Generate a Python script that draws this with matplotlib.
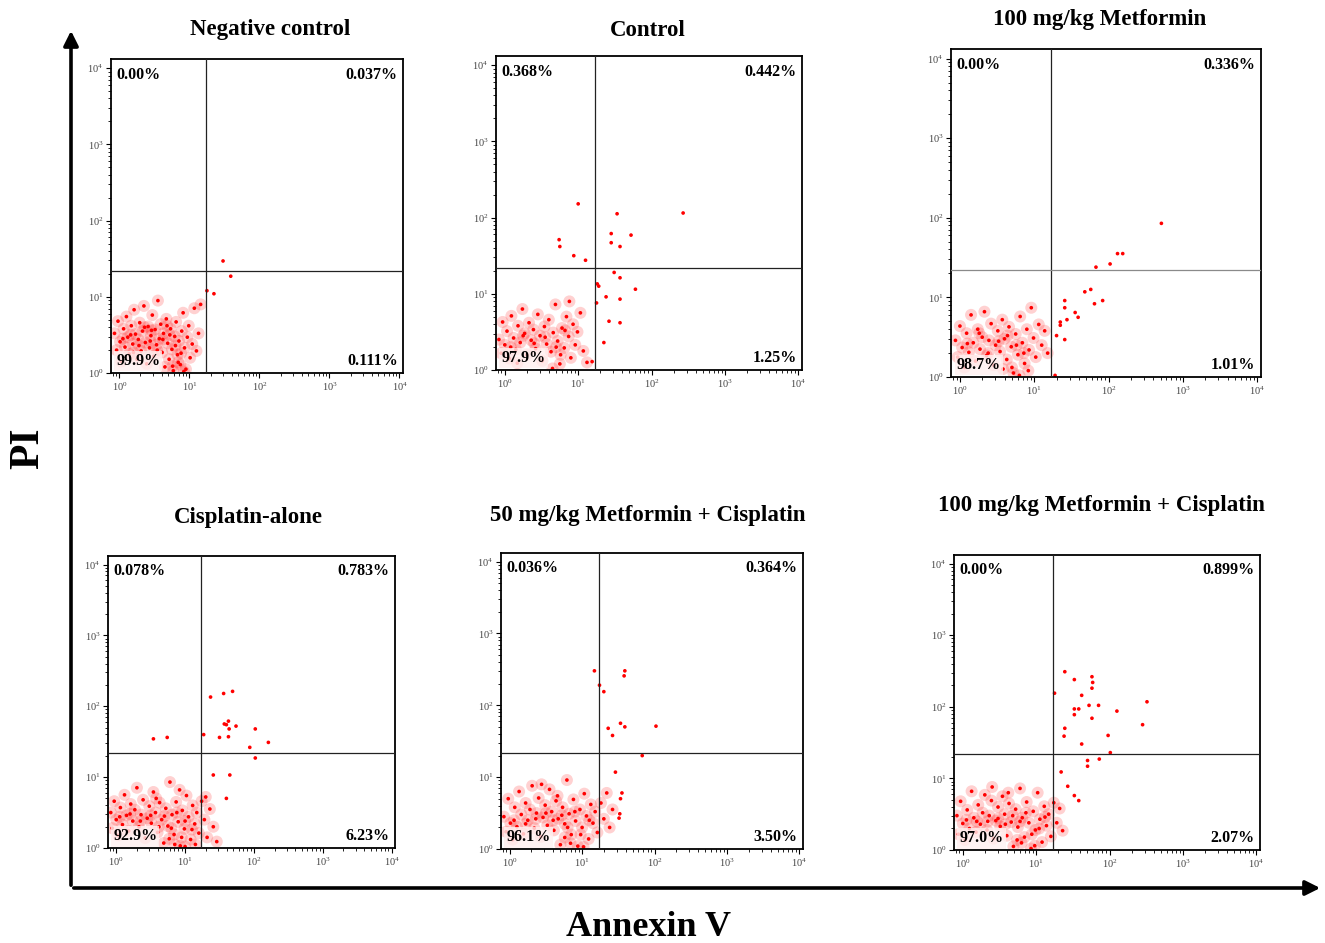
import numpy as np
import matplotlib.pyplot as plt
from matplotlib.patches import FancyArrowPatch
from matplotlib.ticker import LogLocator, NullFormatter

plt.rcParams['font.family'] = ['Liberation Serif', 'DejaVu Serif']
plt.rcParams['mathtext.fontset'] = 'custom'
plt.rcParams['mathtext.rm'] = 'Liberation Serif'

W, H = 1325, 943

titles = ["Negative control", "Control", "100 mg/kg Metformin",
          "Cisplatin-alone", "50 mg/kg Metformin + Cisplatin",
          "100 mg/kg Metformin + Cisplatin"]

# quadrant percentages: upper-left, upper-right, lower-left, lower-right
quad_labels = [
    ["0.00%", "0.037%", "99.9%", "0.111%"],
    ["0.368%", "0.442%", "97.9%", "1.25%"],
    ["0.00%", "0.336%", "98.7%", "1.01%"],
    ["0.078%", "0.783%", "92.9%", "6.23%"],
    ["0.036%", "0.364%", "96.1%", "3.50%"],
    ["0.00%", "0.899%", "97.0%", "2.07%"],
]

gate_x = 17.0   # Annexin V gate
gate_y = 22.0   # PI gate

# events, as (log10 Annexin V, log10 PI)
p1_cloud = [
    (-0.07, 0.52), (-0.04, 0.30), (-0.02, 0.68), (0.01, 0.41), (0.03, 0.15), (0.06, 0.58), (0.08, 0.34),
    (0.10, 0.74), (0.12, 0.47), (0.14, 0.25), (0.17, 0.62), (0.19, 0.38), (0.21, 0.83), (0.23, 0.51),
    (0.25, 0.18), (0.27, 0.44), (0.29, 0.66), (0.31, 0.29), (0.33, 0.55), (0.35, 0.88), (0.37, 0.40),
    (0.39, 0.12), (0.41, 0.61), (0.43, 0.33), (0.45, 0.49), (0.47, 0.76), (0.49, 0.22), (0.51, 0.57),
    (0.53, 0.37), (0.55, 0.95), (0.57, 0.45), (0.59, 0.64), (0.61, 0.27), (0.63, 0.52), (0.65, 0.08),
    (0.67, 0.71), (0.69, 0.39), (0.71, 0.18), (0.73, 0.58), (0.75, 0.31), (0.77, 0.03), (0.79, 0.48),
    (0.81, 0.67), (0.83, 0.24), (0.85, 0.42), (0.87, 0.11), (0.89, 0.55), (0.91, 0.79), (0.93, 0.33),
    (0.95, 0.05), (0.97, 0.47), (0.99, 0.62), (1.01, 0.20), (1.04, 0.38), (1.07, 0.85), (1.10, 0.29),
    (1.13, 0.52), (1.16, 0.90), (0.05, 0.45), (0.16, 0.50), (0.28, 0.36), (0.36, 0.60), (0.44, 0.42),
    (0.54, 0.30), (0.62, 0.44), (0.72, 0.50), (0.80, 0.36), (0.88, 0.26), (0.20, 0.27), (0.46, 0.56),
    (0.68, 0.62), (0.84, 0.14), (0.76, 0.09), (0.92, 0.02),
]
p1_out = [(1.25, 1.08), (1.35, 1.04), (1.48, 1.47), (1.59, 1.27)]

p2_cloud = [
    (-0.08, 0.40), (-0.05, 0.22), (-0.03, 0.63), (0.00, 0.33), (0.03, 0.51), (0.06, 0.15), (0.09, 0.71),
    (0.12, 0.42), (0.15, 0.27), (0.18, 0.58), (0.21, 0.36), (0.24, 0.80), (0.27, 0.48), (0.30, 0.20),
    (0.33, 0.62), (0.36, 0.39), (0.39, 0.53), (0.42, 0.28), (0.45, 0.73), (0.48, 0.45), (0.51, 0.12),
    (0.54, 0.57), (0.57, 0.34), (0.60, 0.66), (0.63, 0.24), (0.66, 0.49), (0.69, 0.86), (0.72, 0.38),
    (0.75, 0.08), (0.78, 0.55), (0.81, 0.29), (0.84, 0.70), (0.87, 0.44), (0.90, 0.16), (0.93, 0.60),
    (0.96, 0.33), (0.99, 0.50), (1.03, 0.75), (1.07, 0.25), (1.12, 0.10), (0.08, 0.30), (0.25, 0.45),
    (0.40, 0.35), (0.55, 0.43), (0.70, 0.30), (0.82, 0.52), (0.65, 0.02), (0.76, 0.20), (0.17, 0.09),
    (0.88, 0.90),
]
p2_out = [
    (1.00, 2.18), (1.53, 2.05), (2.43, 2.06), (1.45, 1.79), (1.45, 1.67), (1.72, 1.77), (1.57, 1.62),
    (0.74, 1.71), (0.75, 1.62), (0.94, 1.50), (1.10, 1.44), (1.49, 1.28), (1.57, 1.21), (1.28, 1.10),
    (1.26, 1.13), (1.78, 1.06), (1.38, 0.96), (1.57, 0.93), (1.25, 0.88), (1.42, 0.64), (1.57, 0.62),
    (1.35, 0.36), (1.19, 0.11),
]

p3_cloud = [
    (-0.06, 0.46), (-0.03, 0.25), (0.00, 0.64), (0.03, 0.37), (0.06, 0.12), (0.09, 0.55), (0.12, 0.31),
    (0.15, 0.78), (0.18, 0.43), (0.21, 0.20), (0.24, 0.60), (0.27, 0.35), (0.30, 0.50), (0.33, 0.82),
    (0.36, 0.27), (0.39, 0.46), (0.42, 0.67), (0.45, 0.15), (0.48, 0.40), (0.51, 0.58), (0.54, 0.32),
    (0.57, 0.72), (0.60, 0.48), (0.63, 0.22), (0.66, 0.63), (0.69, 0.38), (0.72, 0.05), (0.75, 0.54),
    (0.78, 0.28), (0.81, 0.76), (0.84, 0.43), (0.87, 0.17), (0.90, 0.60), (0.93, 0.34), (0.96, 0.87),
    (0.99, 0.49), (1.02, 0.25), (1.06, 0.66), (1.10, 0.40), (1.14, 0.58), (1.18, 0.30), (0.10, 0.42),
    (0.26, 0.55), (0.38, 0.30), (0.52, 0.45), (0.64, 0.52), (0.76, 0.40), (0.86, 0.30), (0.70, 0.12),
    (0.80, 0.02), (0.58, 0.10), (0.92, 0.08),
]
p3_out = [
    (2.71, 1.93), (2.12, 1.55), (2.19, 1.55), (2.02, 1.42), (1.83, 1.38), (1.68, 1.07), (1.76, 1.10),
    (1.92, 0.96), (1.81, 0.92), (1.41, 0.96), (1.41, 0.87), (1.55, 0.81), (1.59, 0.75), (1.44, 0.72),
    (1.35, 0.69), (1.35, 0.65), (1.30, 0.52), (1.41, 0.47), (1.28, 0.02),
]

p4_cloud = [
    (-0.08, 0.50), (-0.06, 0.28), (-0.03, 0.66), (0.00, 0.40), (0.03, 0.18), (0.06, 0.57), (0.09, 0.33),
    (0.12, 0.75), (0.15, 0.46), (0.18, 0.24), (0.21, 0.62), (0.24, 0.38), (0.27, 0.54), (0.30, 0.85),
    (0.33, 0.30), (0.36, 0.47), (0.39, 0.68), (0.42, 0.14), (0.45, 0.42), (0.48, 0.59), (0.51, 0.35),
    (0.54, 0.79), (0.57, 0.50), (0.60, 0.22), (0.63, 0.64), (0.66, 0.40), (0.69, 0.07), (0.72, 0.56),
    (0.75, 0.31), (0.78, 0.93), (0.81, 0.47), (0.84, 0.19), (0.87, 0.65), (0.90, 0.37), (0.93, 0.03),
    (0.96, 0.53), (0.99, 0.27), (1.02, 0.74), (1.05, 0.44), (1.08, 0.12), (1.11, 0.60), (1.14, 0.34),
    (1.17, 0.50), (1.20, 0.21), (1.24, 0.66), (1.28, 0.40), (1.32, 0.15), (1.36, 0.55), (1.41, 0.30),
    (1.46, 0.09), (0.05, 0.44), (0.20, 0.48), (0.35, 0.38), (0.50, 0.46), (0.62, 0.30), (0.70, 0.45),
    (0.80, 0.28), (0.88, 0.50), (0.95, 0.15), (1.00, 0.38), (1.10, 0.26), (0.85, 0.05), (1.00, 0.02),
    (0.77, 0.13), (1.15, 0.05), (1.30, 0.72), (0.58, 0.70), (0.92, 0.82),
]
p4_out = [
    (1.37, 2.13), (1.56, 2.18), (1.69, 2.21), (1.57, 1.75), (1.63, 1.79), (1.60, 1.74), (1.64, 1.68),
    (1.74, 1.72), (2.02, 1.68), (2.21, 1.49), (1.94, 1.42), (2.02, 1.27), (1.27, 1.60), (1.50, 1.56),
    (1.63, 1.57), (0.54, 1.54), (0.74, 1.56), (1.41, 1.03), (1.65, 1.03), (1.60, 0.70),
]

p5_cloud = [
    (-0.08, 0.45), (-0.05, 0.24), (-0.02, 0.70), (0.01, 0.36), (0.04, 0.13), (0.07, 0.58), (0.10, 0.31),
    (0.13, 0.80), (0.16, 0.48), (0.19, 0.21), (0.22, 0.64), (0.25, 0.40), (0.28, 0.55), (0.31, 0.88),
    (0.34, 0.29), (0.37, 0.50), (0.40, 0.71), (0.43, 0.17), (0.46, 0.44), (0.49, 0.61), (0.52, 0.33),
    (0.55, 0.83), (0.58, 0.52), (0.61, 0.26), (0.64, 0.67), (0.67, 0.42), (0.70, 0.06), (0.73, 0.58),
    (0.76, 0.35), (0.79, 0.96), (0.82, 0.49), (0.85, 0.20), (0.88, 0.69), (0.91, 0.39), (0.94, 0.04),
    (0.97, 0.55), (1.00, 0.30), (1.03, 0.77), (1.06, 0.46), (1.09, 0.14), (1.12, 0.62), (1.15, 0.36),
    (1.18, 0.52), (1.21, 0.23), (1.26, 0.64), (1.30, 0.42), (1.34, 0.78), (1.38, 0.30), (1.42, 0.55),
    (0.06, 0.40), (0.22, 0.35), (0.36, 0.42), (0.50, 0.50), (0.60, 0.40), (0.72, 0.47), (0.80, 0.30),
    (0.90, 0.52), (0.98, 0.20), (1.10, 0.40), (0.84, 0.08), (0.76, 0.16), (1.02, 0.03), (0.66, 0.74),
    (0.44, 0.90),
]
p5_out = [
    (1.17, 2.48), (1.59, 2.48), (1.58, 2.41), (1.24, 2.28), (1.30, 2.19), (1.53, 1.75), (1.59, 1.70),
    (1.36, 1.68), (1.42, 1.58), (2.02, 1.71), (1.83, 1.30), (1.46, 1.07), (1.55, 0.78), (1.53, 0.70),
    (1.52, 0.49), (1.51, 0.43),
]

p6_cloud = [
    (-0.08, 0.48), (-0.06, 0.22), (-0.03, 0.68), (0.00, 0.37), (0.03, 0.14), (0.06, 0.56), (0.09, 0.30),
    (0.12, 0.82), (0.15, 0.45), (0.18, 0.25), (0.21, 0.63), (0.24, 0.36), (0.27, 0.52), (0.30, 0.77),
    (0.33, 0.28), (0.36, 0.48), (0.39, 0.69), (0.42, 0.16), (0.45, 0.41), (0.48, 0.60), (0.51, 0.33),
    (0.54, 0.75), (0.57, 0.50), (0.60, 0.20), (0.63, 0.65), (0.66, 0.39), (0.69, 0.05), (0.72, 0.57),
    (0.75, 0.32), (0.78, 0.86), (0.81, 0.45), (0.84, 0.18), (0.87, 0.67), (0.90, 0.38), (0.93, 0.02),
    (0.96, 0.54), (0.99, 0.28), (1.02, 0.80), (1.05, 0.43), (1.08, 0.11), (1.11, 0.61), (1.14, 0.34),
    (1.17, 0.50), (1.20, 0.19), (1.24, 0.66), (1.28, 0.38), (1.32, 0.58), (1.36, 0.27), (0.05, 0.42),
    (0.19, 0.40), (0.34, 0.40), (0.48, 0.44), (0.58, 0.36), (0.68, 0.48), (0.78, 0.40), (0.86, 0.52),
    (0.94, 0.22), (1.04, 0.30), (1.12, 0.46), (0.80, 0.10), (0.98, 0.06), (0.74, 0.14), (0.62, 0.80),
    (0.40, 0.88),
]
p6_out = [
    (1.39, 2.49), (1.52, 2.38), (1.76, 2.42), (1.77, 2.34), (1.76, 2.26), (1.62, 2.16), (1.25, 2.19),
    (1.72, 2.02), (1.85, 2.02), (1.52, 1.97), (1.58, 1.97), (1.52, 1.89), (1.76, 1.84), (2.10, 1.94),
    (2.51, 2.07), (2.45, 1.75), (1.39, 1.70), (1.38, 1.59), (1.98, 1.60), (1.62, 1.48), (2.01, 1.36),
    (1.70, 1.25), (1.70, 1.17), (1.86, 1.27), (1.34, 1.09), (1.43, 0.89), (1.52, 0.76), (1.58, 0.69),
]

clouds = [p1_cloud, p2_cloud, p3_cloud, p4_cloud, p5_cloud, p6_cloud]
outliers = [p1_out, p2_out, p3_out, p4_out, p5_out, p6_out]

# panel boxes in pixels: left, top, right, bottom
boxes = [(111, 59, 403, 373), (496, 56, 802, 370), (951, 49, 1261, 377),
         (108, 556, 395, 848), (501, 553, 803, 849), (954, 555, 1260, 850)]
title_pos = [(270, 30), (648, 30), (1100, 20), (248, 518), (648, 515), (1101, 506)]

fig = plt.figure(figsize=(W / 100, H / 100), dpi=100)

for i in range(6):
    l, t, r, b = boxes[i]
    ax = fig.add_axes([l / W, 1 - b / H, (r - l) / W, (b - t) / H])
    ax.set_xscale('log')
    ax.set_yscale('log')

    pts = np.array(clouds[i] + outliers[i])
    x = 10 ** pts[:, 0]
    y = 10 ** pts[:, 1]
    cl = np.array(clouds[i])
    cx = 10 ** cl[:, 0]
    cy = 10 ** cl[:, 1]
    # soft density underneath, then the events themselves
    ax.scatter(cx, cy, s=75, color='#ff1a1a', alpha=0.2, edgecolors='none', zorder=1)
    ax.scatter(x, y, s=7, color='#ff0000', edgecolors='none', zorder=2)

    hcol = '#8a8a8a' if i == 2 else '#222222'
    ax.axvline(gate_x, color='#222222', lw=0.9, zorder=3)
    ax.axhline(gate_y, color=hcol, lw=0.9, zorder=3)

    ax.set_xlim(10 ** -0.12, 10 ** 4.05)
    ax.set_ylim(1, 10 ** 4.12)

    for ax_ in (ax.xaxis, ax.yaxis):
        ax_.set_major_locator(LogLocator(base=10, numticks=10))
        ax_.set_minor_locator(LogLocator(base=10, subs=np.arange(2, 10), numticks=10))
        ax_.set_minor_formatter(NullFormatter())
    ax.tick_params(which='major', direction='out', length=3.5, width=0.8,
                   labelsize=7.5, labelcolor='#444444', pad=2)
    ax.tick_params(which='minor', direction='out', length=2, width=0.6)
    for sp in ax.spines.values():
        sp.set_linewidth(1.3)

    ul, ur, ll, lr = quad_labels[i]
    kw = dict(transform=ax.transAxes, fontsize=11.5, fontweight='bold', zorder=5)
    ax.text(0.018, 0.975, ul, ha='left', va='top', **kw)
    ax.text(0.982, 0.975, ur, ha='right', va='top', **kw)
    ax.text(0.018, 0.012, ll, ha='left', va='bottom',
            bbox=dict(facecolor='#fff0f0', alpha=0.8, edgecolor='none', pad=1.5), **kw)
    ax.text(0.982, 0.012, lr, ha='right', va='bottom', **kw)

    tx, ty = title_pos[i]
    fig.text(tx / W, 1 - ty / H, titles[i], ha='center', va='center',
             fontsize=16.5, fontweight='bold')

# big axis arrows
ox, oy = 71 / W, 1 - 888 / H
fig.add_artist(FancyArrowPatch((ox, oy), (ox, 1 - 28 / H), transform=fig.transFigure,
                               arrowstyle='-|>', mutation_scale=22, lw=2.6, color='black'))
fig.add_artist(FancyArrowPatch((ox, oy), (1323 / W, oy), transform=fig.transFigure,
                               arrowstyle='-|>', mutation_scale=22, lw=2.6, color='black'))

fig.text(28 / W, 1 - 448 / H, "PI", rotation=90, ha='center', va='center',
         fontsize=30, fontweight='bold')
fig.text(649 / W, 1 - 928 / H, "Annexin V", ha='center', va='center',
         fontsize=26, fontweight='bold')

plt.savefig('out.png', dpi=100)
